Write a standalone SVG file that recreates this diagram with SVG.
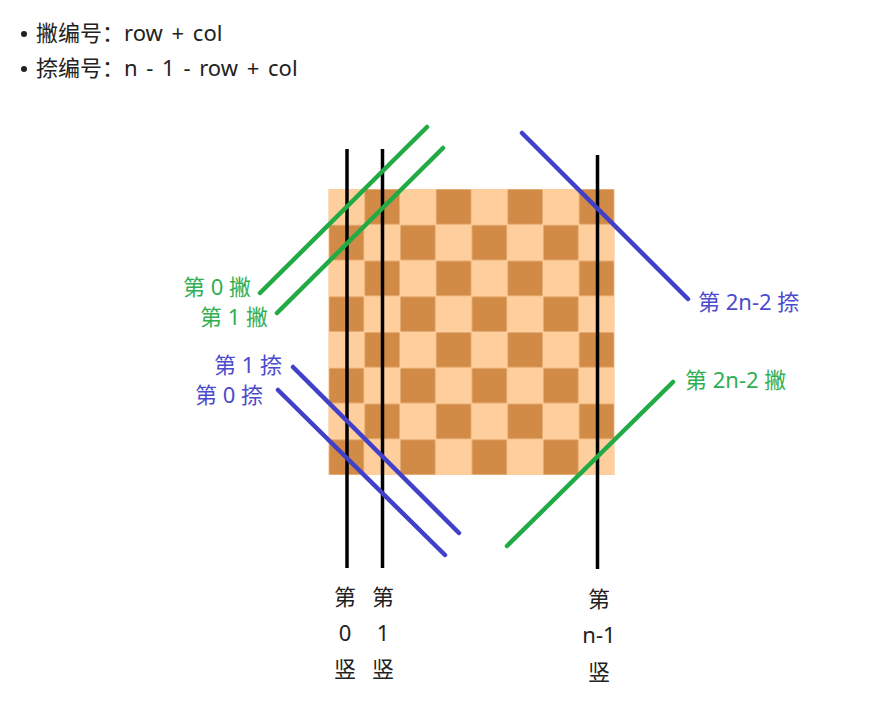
<svg xmlns="http://www.w3.org/2000/svg" width="890" height="701" viewBox="0 0 890 701">
<defs>
<style>
text{font-family:"Noto Sans","Noto Sans CJK SC",sans-serif;font-size:22px}
.t{fill:#222;word-spacing:3px}
.g{fill:#2fae52}
.b{fill:#4b4bcc}
.lab{fill:#222;text-anchor:middle}
.v{stroke:#000;stroke-width:3.5;fill:none}
.gl{stroke:#22aa44;stroke-width:4.5;stroke-linecap:round;fill:none}
.bl{stroke:#4040c8;stroke-width:4.5;stroke-linecap:round;fill:none}
</style>
<pattern id="chk" patternUnits="userSpaceOnUse" x="328.5" y="189" width="71.5" height="71.5">
<rect x="0" y="0" width="71.5" height="71.5" fill="#fece9c"/>
<rect x="36.25" y="0.5" width="34.75" height="34.75" fill="#d18b47"/>
<rect x="0.5" y="36.25" width="34.75" height="34.75" fill="#d18b47"/>
</pattern>
</defs>
<rect width="890" height="701" fill="#fff"/>
<g id="bullets">
<circle cx="24" cy="34" r="3" fill="#222"/>
<text class="t" x="36" y="41">撇编号：row + col</text>
<circle cx="24" cy="69" r="3" fill="#222"/>
<text class="t" x="36" y="76">捺编号：n - 1 - row + col</text>
</g>
<g id="board">
<rect x="328.5" y="189" width="286" height="286" fill="url(#chk)"/>
</g>
<g id="connectors">
<line id="col0" class="v" x1="347" y1="149" x2="347" y2="568"/>
<line id="col1" class="v" x1="382.5" y1="149" x2="382.5" y2="568"/>
<line id="coln1" class="v" x1="597.5" y1="155" x2="597.5" y2="569"/>
<line id="pie0" class="gl" x1="260" y1="293" x2="427" y2="127"/>
<line id="pie1" class="gl" x1="277" y1="313" x2="443" y2="148"/>
<line id="pie2n2" class="gl" x1="507" y1="546" x2="673" y2="382"/>
<line id="na1" class="bl" x1="293" y1="367" x2="459" y2="533"/>
<line id="na0" class="bl" x1="278" y1="390" x2="445" y2="555"/>
<line id="na2n2" class="bl" x1="522" y1="133" x2="688" y2="299"/>
</g>
<g id="labels">
<text class="g" x="251" y="295" text-anchor="end">第 0 撇</text>
<text class="g" x="268" y="325" text-anchor="end">第 1 撇</text>
<text class="b" x="282" y="373" text-anchor="end">第 1 捺</text>
<text class="b" x="263" y="403" text-anchor="end">第 0 捺</text>
<text class="b" x="698" y="310">第 2n-2 捺</text>
<text class="g" x="685" y="388">第 2n-2 撇</text>
</g>
<g id="col-labels">
<text class="lab" x="345" y="605">第</text>
<text class="lab" x="345" y="641">0</text>
<text class="lab" x="345" y="677">竖</text>
<text class="lab" x="383" y="605">第</text>
<text class="lab" x="383" y="641">1</text>
<text class="lab" x="383" y="677">竖</text>
<text class="lab" x="599" y="607">第</text>
<text class="lab" x="599" y="643">n-1</text>
<text class="lab" x="599" y="680">竖</text>
</g>
</svg>
